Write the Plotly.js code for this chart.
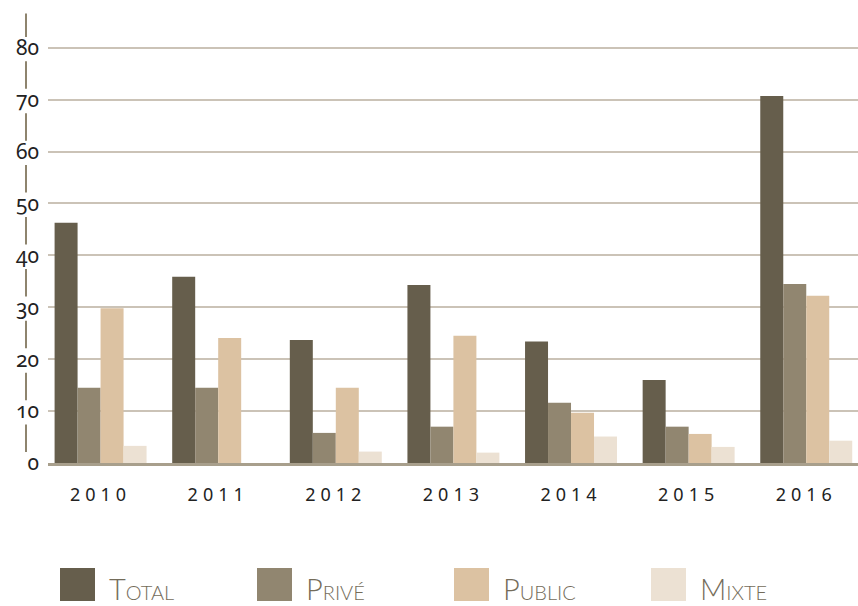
<!DOCTYPE html>
<html>
<head>
<meta charset="utf-8">
<script src="https://cdn.plot.ly/plotly-3.0.1.min.js"></script>
<style>
  html, body { margin: 0; padding: 0; background: #fff; }
  #chart { width: 858px; height: 606px; }
  .ytick text {
    font-feature-settings: "onum" 1 !important;
    font-variant-numeric: oldstyle-nums !important;
  }
  .xtick text { letter-spacing: 5px; }
</style>
</head>
<body>
<div id="chart"></div>
<script>
// ---- data ----
const years = ['2010', '2011', '2012', '2013', '2014', '2015', '2016'];
const seriesNames = ['Total', 'Privé', 'Public', 'Mixte'];
const totalValues  = [46.3, 35.9, 23.7, 34.3, 23.4, 16.0, 70.7];
const priveValues  = [14.5, 14.5, 5.8, 7.0, 11.6, 7.0, 34.5];
const publicValues = [29.8, 24.1, 14.5, 24.5, 9.7, 5.6, 32.2];
const mixteValues  = [3.3, null, 2.2, 2.0, 5.1, 3.1, 4.3];
const yTickValues  = [0, 10, 20, 30, 40, 50, 60, 70, 80];

// ---- styles ----
const colors = ['#665e4c', '#918670', '#dcc2a2', '#ece1d3'];
const allSeries = [totalValues, priveValues, publicValues, mixteValues];

const traces = allSeries.map((vals, i) => ({
  type: 'bar',
  x: years,
  y: vals,
  name: seriesNames[i],
  marker: { color: colors[i], line: { width: 0 } },
  hovertemplate: '%{x}: %{y}<extra>' + seriesNames[i] + '</extra>'
}));

const W = 858, H = 606;
const margin = { l: 48, r: 0, t: 13, b: 143 };
const plotW = W - margin.l - margin.r;
const plotH = H - margin.t - margin.b;
const px2paperX = px => (px - margin.l) / plotW;
const px2paperY = py => (H - margin.b - py) / plotH;

const yTop = 86.7;
const shapes = [];
// decorative broken vertical axis line between the tick labels
yTickValues.forEach(v => {
  shapes.push({
    type: 'line', xref: 'paper', yref: 'y',
    x0: px2paperX(26), x1: px2paperX(26),
    y0: v + 2.1, y1: Math.min(v + 7.4, yTop - 0.1),
    line: { color: '#8e846e', width: 2 }
  });
});

// custom legend (large swatches, small-caps labels)
const annotations = [];
seriesNames.forEach((name, i) => {
  const sx = 60 + i * 197;
  shapes.push({
    type: 'rect', xref: 'paper', yref: 'paper',
    x0: px2paperX(sx), x1: px2paperX(sx + 35),
    y0: px2paperY(568), y1: px2paperY(601),
    fillcolor: colors[i], line: { width: 0 }
  });
  const label = name.charAt(0).toUpperCase() +
    '<span style="font-size:20px">' + name.slice(1).toUpperCase() + '</span>';
  annotations.push({
    xref: 'paper', yref: 'paper',
    x: px2paperX(sx + 47), y: px2paperY(588),
    xanchor: 'left', yanchor: 'middle',
    text: label, showarrow: false,
    font: { family: 'Lato', size: 29, color: '#746c5a', weight: 300 }
  });
});

const layout = {
  width: W, height: H, margin: margin,
  paper_bgcolor: '#ffffff', plot_bgcolor: '#ffffff',
  barmode: 'group', bargap: 0.218, bargroupgap: 0,
  showlegend: false,
  xaxis: {
    type: 'category',
    range: [-0.447, 6.44],
    showgrid: false, zeroline: false,
    showline: true, linecolor: '#a89f8c', linewidth: 2.5,
    ticks: '', ticklabelstandoff: 14,
    tickfont: { family: 'Noto Sans', size: 18, color: '#222222' }
  },
  yaxis: {
    range: [0, yTop],
    tickmode: 'array', tickvals: yTickValues,
    ticktext: yTickValues.map(String),
    showgrid: true, gridcolor: '#cbc3b7', gridwidth: 2,
    zeroline: false, showline: false,
    ticks: '', ticklabelstandoff: 8,
    tickfont: { family: 'Noto Sans', size: 21, color: '#222222' }
  },
  shapes: shapes,
  annotations: annotations
};

Plotly.newPlot('chart', traces, layout, { displayModeBar: false, staticPlot: true });
</script>
</body>
</html>
